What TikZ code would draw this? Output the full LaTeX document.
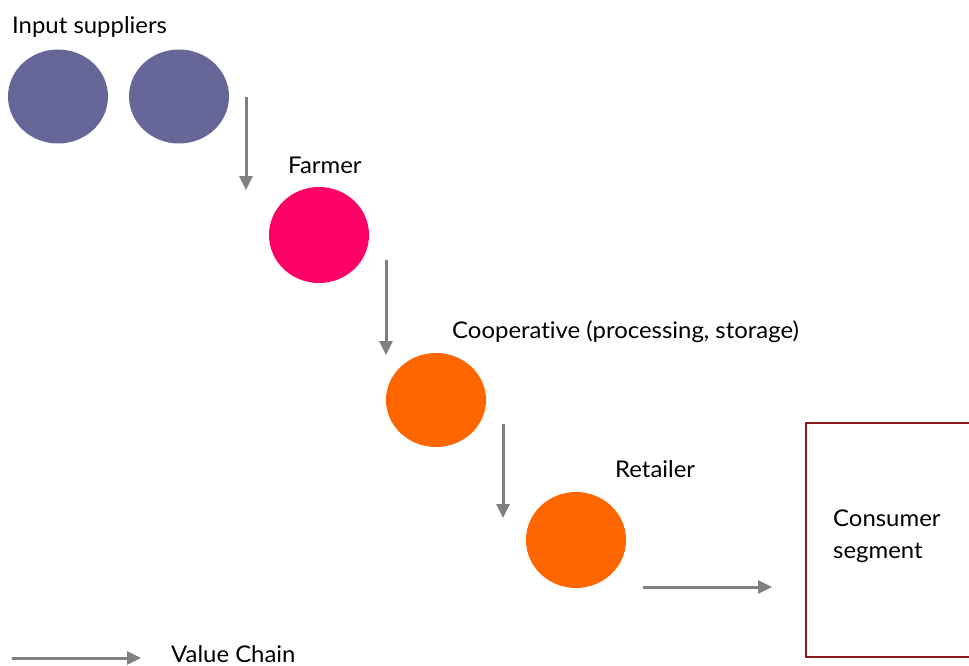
\documentclass[tikz,border=0pt]{standalone}
\usepackage{fontspec}
\setmainfont{Lato}[FakeStretch=1.04, Ligatures=NoCommon]
\usetikzlibrary{arrows.meta,shapes.geometric}
\definecolor{supplier}{HTML}{666699}
\definecolor{farmer}{HTML}{FF0066}
\definecolor{coop}{HTML}{FF6600}
\definecolor{flow}{HTML}{808080}
\definecolor{segline}{HTML}{8C1A1A}
\tikzset{
  actor/.style={ellipse, minimum width=100pt, minimum height=94pt, inner sep=0pt},
  label/.style={anchor=base west, inner sep=0pt, font=\fontsize{23}{27}\selectfont, text=black},
  flowarrow/.style={draw=flow, line width=3pt, -{Triangle[length=14pt,width=13pt]}, fill=flow},
}
\begin{document}
\begin{tikzpicture}[x=1pt, y=-1pt]
  \useasboundingbox (0,0) rectangle (969,666);

  % actors along the chain
  \node[actor, fill=supplier] (sup1) at (58,96.5) {};
  \node[actor, fill=supplier] (sup2) at (179,96.5) {};
  \node[actor, fill=farmer, minimum height=96pt] (farm) at (319,235) {};
  \node[actor, fill=coop] (coop) at (436,400) {};
  \node[actor, fill=coop, minimum height=96pt] (ret) at (576,540) {};

  % captions
  \node[label] (tsup) at (12,34) {Input suppliers};
  \node[label] (tfarm) at (288,173) {Farmer};
  \node[label] (tcoop) at (452,338) {Cooperative (processing, storage)};
  \node[label] (tret) at (615,477) {Retailer};
  \node[label] (tcons1) at (833,526) {Consumer};
  \node[label] (tcons2) at (833,558) {segment};
  \node[label] (tlegend) at (171,662) {Value Chain};

  % consumer segment box, open to the right edge
  \draw[segline, line width=1.5pt] (969,423) -- (806,423) -- (806,657) -- (969,657);

  % flow arrows
  \coordinate (a1s) at (246,97);  \coordinate (a1e) at (246,190);
  \coordinate (a2s) at (386,260); \coordinate (a2e) at (386,355);
  \coordinate (a3s) at (503,424); \coordinate (a3e) at (503,518);
  \coordinate (a4s) at (643,587); \coordinate (a4e) at (772,587);
  \coordinate (l1s) at (12,658);  \coordinate (l1e) at (141,658);
  \draw[flowarrow] (a1s) -- (a1e);
  \draw[flowarrow] (a2s) -- (a2e);
  \draw[flowarrow] (a3s) -- (a3e);
  \draw[flowarrow] (a4s) -- (a4e);
  \draw[flowarrow] (l1s) -- (l1e);
\end{tikzpicture}
\end{document}
